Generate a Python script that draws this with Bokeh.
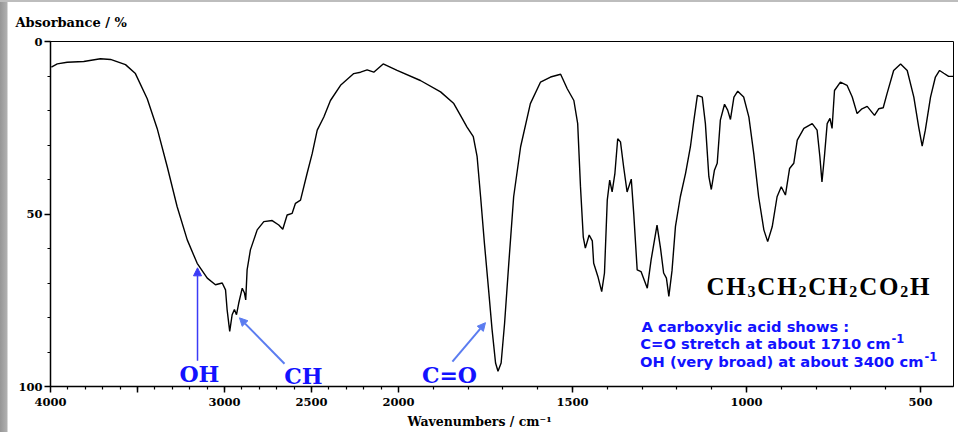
import numpy as np
from bokeh.plotting import figure
from bokeh.models import (Range1d, FixedTicker, Label, Arrow, NormalHead, Title,
                          GlobalInlineStyleSheet)
from bokeh.embed import file_html
from bokeh.resources import INLINE

# ---------------- data ----------------
wavenumber = [3995, 3961, 3904, 3809, 3713, 3655, 3569, 3512, 3444, 3387,
              3329, 3272, 3214, 3157, 3099, 3052, 3013, 2994, 2985, 2970,
              2956, 2943, 2931, 2918, 2898, 2885, 2878, 2870, 2851, 2812,
              2774, 2726, 2688, 2665, 2640, 2611, 2592, 2563, 2525, 2496,
              2467, 2429, 2391, 2333, 2257, 2218, 2180, 2142, 2088, 2008,
              1937, 1879, 1841, 1817, 1803, 1785, 1774, 1764, 1753, 1741,
              1731, 1721, 1714, 1705, 1695, 1683, 1669, 1649, 1621, 1592,
              1563, 1534, 1515, 1496, 1485, 1477, 1469, 1463, 1452, 1443,
              1439, 1427, 1416, 1408, 1400, 1393, 1386, 1378, 1370, 1362,
              1353, 1343, 1331, 1324, 1314, 1303, 1285, 1274, 1257, 1247,
              1238, 1230, 1223, 1214, 1204, 1190, 1175, 1161, 1151, 1141,
              1127, 1118, 1108, 1101, 1092, 1084, 1075, 1063, 1054, 1046,
              1036, 1025, 1008, 993, 979, 965, 950, 939, 926, 912,
              900, 888, 876, 864, 854, 835, 811, 797, 789, 783,
              776, 768, 760, 754, 747, 730, 711, 696, 682, 668,
              653, 632, 620, 607, 596, 577, 557, 538, 519, 505,
              495, 486, 471, 457, 445, 433, 419, 406]
absorbance = [7.4, 6.5, 6.0, 5.8, 5.0, 5.2, 6.7, 9.3, 16.6, 25.2,
              36.3, 47.9, 57.5, 64.3, 68.6, 70.5, 70.0, 72.0, 77.7, 84.0,
              79.2, 77.7, 79.2, 75.8, 71.5, 72.9, 74.9, 66.2, 60.4, 54.6,
              52.2, 51.9, 53.2, 54.4, 50.3, 49.8, 46.9, 46.0, 38.2, 32.5,
              25.7, 21.9, 17.1, 12.7, 9.3, 8.9, 8.2, 8.9, 6.5, 8.4,
              11.3, 14.6, 18.0, 22.3, 24.8, 27.6, 33.4, 45.0, 58.5, 72.0,
              83.5, 93.2, 95.6, 93.2, 81.6, 64.3, 45.0, 30.5, 18.0, 11.8,
              10.3, 9.5, 13.7, 17.1, 23.8, 42.0, 56.6, 59.9, 56.1, 57.8,
              64.3, 68.1, 72.5, 67.1, 46.0, 40.2, 43.6, 38.2, 28.2, 29.1,
              36.3, 43.6, 39.9, 49.8, 66.2, 66.7, 71.5, 63.3, 53.2, 59.9,
              67.1, 68.6, 73.9, 66.5, 53.6, 45.0, 38.2, 30.5, 22.8, 15.6,
              16.1, 23.8, 39.2, 42.9, 37.3, 35.3, 22.8, 18.2, 19.9, 22.6,
              16.1, 14.4, 16.1, 21.9, 32.5, 45.0, 54.6, 58.0, 53.7, 45.0,
              42.1, 44.5, 36.8, 35.3, 28.6, 25.2, 23.8, 25.7, 33.4, 40.7,
              33.4, 23.8, 22.3, 25.2, 14.2, 11.8, 12.7, 16.1, 20.9, 19.5,
              18.8, 21.4, 19.5, 19.2, 15.1, 8.4, 6.5, 8.4, 16.1, 24.8,
              30.3, 25.7, 16.1, 10.3, 8.4, 9.2, 10.1, 10.1]

x_major = [4000, 3500, 3000, 2500, 2000, 1500, 1000, 500]
x_major_labels = ["4000", "", "3000", "2500", "2000", "1500", "1000", "500"]
x_minor = list(range(3900, 2000, -100)) + list(range(1900, 400, -100))
y_major = [0, 50, 100]
y_major_labels = ["0", "50", "100"]
y_minor = list(range(0, 101, 10))

formula = [("C", 0), ("H", 0), ("3", 1), ("C", 0), ("H", 0), ("2", 1),
           ("C", 0), ("H", 0), ("2", 1), ("C", 0), ("O", 0), ("2", 1), ("H", 0)]


# the chart's x axis is drawn at twice the scale below 2000 cm-1
def xpos(w):
    w = np.asarray(w, dtype=float)
    return np.where(w >= 2000, 4000 - w, 2000 + 2 * (2000 - w))


def xs(w):
    return float(xpos(w))


p = figure(width=958, height=432, x_range=Range1d(0, 5190), y_range=Range1d(100, 0),
           output_backend="svg", toolbar_location=None,
           min_border_left=50, min_border_right=5, min_border_top=41, min_border_bottom=45,
           background_fill_color="white", border_fill_color=None)
p.grid.visible = False
p.outline_line_color = "black"
p.outline_line_width = 1

p.line(xpos(wavenumber), absorbance, line_color="black", line_width=1.4)

for ax in (p.xaxis[0], p.yaxis[0]):
    ax.axis_line_color = "black"
    ax.axis_line_width = 1.5
    ax.major_tick_in = 0
    ax.major_tick_out = 6
    ax.minor_tick_in = 0
    ax.minor_tick_out = 3
    ax.major_tick_line_color = "black"
    ax.minor_tick_line_color = "black"
    ax.major_tick_line_width = 1.5
    ax.minor_tick_line_width = 1.2
    ax.major_label_text_font = "DejaVu Serif"
    ax.major_label_text_font_style = "bold"
    ax.major_label_text_font_size = "11.5px"
    ax.major_label_text_color = "black"

xt = [int(v) for v in xpos(x_major)]
p.xaxis[0].ticker = FixedTicker(ticks=xt, minor_ticks=[float(v) for v in xpos(x_minor)])
p.xaxis[0].major_label_overrides = {k: lab for k, lab in zip(xt, x_major_labels)}
p.xaxis[0].major_label_standoff = 5
p.yaxis[0].ticker = FixedTicker(ticks=y_major, minor_ticks=y_minor)
p.yaxis[0].major_label_overrides = {k: lab for k, lab in zip(y_major, y_major_labels)}
p.yaxis[0].major_label_standoff = 2

# title (top left) and x-axis caption (as a title below the axis)
p.title.text = "Absorbance / %"
p.title.align = "left"
p.title.offset = -35
p.title.standoff = 23
p.title.text_font = "DejaVu Serif"
p.title.text_font_style = "bold"
p.title.text_font_size = "13px"
p.title.text_color = "black"

p.add_layout(Title(text="Wavenumbers / cm\u207b\u00b9", align="left", offset=357, standoff=7,
                   text_font="DejaVu Serif", text_font_style="bold", text_font_size="12.5px",
                   text_color="black"), "below")

serif = dict(text_font="DejaVu Serif", text_font_style="bold")

# band labels and arrows
blue = "#1212ff"
for txt, w, yv in (("OH", 3144, 96.5), ("CH", 2546, 97.1), ("C=O", 1853.5, 96.8)):
    p.add_layout(Label(x=xs(w), y=yv, text=txt, text_align="center", text_baseline="middle",
                       text_font_size="22px", text_color=blue, **serif))

arrows = [((3155, 92.5), (3155, 65.6), "#3b3bf6", 1.5),
          ((2655, 93.4), (2914, 80.1), "#5b7cf0", 2.0),
          ((1845, 92.8), (1750, 81.5), "#5b7cf0", 2.0)]
for (w0, y0), (w1, y1), c, lw in arrows:
    p.add_layout(Arrow(end=NormalHead(size=8, fill_color=c, line_color=c, line_width=1),
                       x_start=xs(w0), y_start=y0, x_end=xs(w1), y_end=y1,
                       line_color=c, line_width=lw))

# formula, one glyph at a time (Liberation Serif Bold advance widths)
adv = {"C": 0.722, "H": 0.778, "O": 0.778, "2": 0.5, "3": 0.5}
big, small, gap = 25, 16, 1.8
off = 0.0
for ch, sub in formula:
    size = small if sub else big
    p.add_layout(Label(x=xs(1115), y=70.95, x_offset=off, y_offset=-5 if sub else 0,
                       text=ch, text_align="left", text_baseline="alphabetic",
                       text_font="Liberation Serif", text_font_style="bold",
                       text_font_size=f"{size}px", text_color="black"))
    off += adv[ch] * size + gap

# explanatory text
sans = dict(text_font="DejaVu Sans", text_font_style="bold", text_color=blue)
p.add_layout(Label(x=xs(1301.7), y=82.66, text="A carboxylic acid shows :", text_align="left",
                   text_baseline="middle", text_font_size="14.7px", **sans))
p.add_layout(Label(x=xs(586.2), y=87.57, text="C=O stretch at about 1710 cm", text_align="right",
                   text_baseline="middle", text_font_size="14.7px", **sans))
p.add_layout(Label(x=xs(583.3), y=86.2, text="-1", text_align="left",
                   text_baseline="middle", text_font_size="11.5px", **sans))
p.add_layout(Label(x=xs(491.4), y=92.77, text="OH (very broad) at about 3400 cm", text_align="right",
                   text_baseline="middle", text_font_size="14.7px", **sans))
p.add_layout(Label(x=xs(488.5), y=91.3, text="-1", text_align="left",
                   text_baseline="middle", text_font_size="11.5px", **sans))

p.stylesheets = [GlobalInlineStyleSheet(css=(
    "body { background: linear-gradient(to bottom, #bdbdbd 0px, #bdbdbd 2px, rgba(255,255,255,0) 2px),"
    " linear-gradient(to right, #969696 0px, #b0b0b0 7px, #ffffff 8px); }"))]

open("out.html", "w").write(file_html(p, INLINE))
